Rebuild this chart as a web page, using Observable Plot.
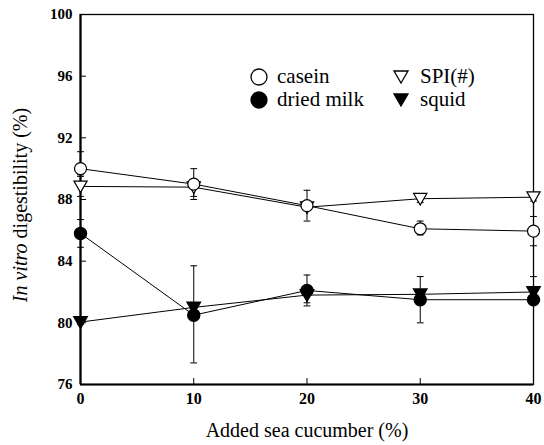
<!DOCTYPE html>
<html><head><meta charset="utf-8">
<script src="https://cdn.jsdelivr.net/npm/d3@7"></script>
<script src="https://cdn.jsdelivr.net/npm/@observablehq/plot@0.6"></script>
<style>
body{margin:0;background:#fff;}
#wrap{position:relative;width:544px;height:445px;}
</style></head>
<body><div id="wrap"></div>
<script>
const xs = [0, 10, 20, 30, 40];
const casein = [90.0, 89.0, 87.6, 86.1, 85.95];
const caseinLo = [89.6, 88.2, 86.6, 85.7, 85.0];
const caseinHi = [91.1, 90.0, 88.6, 86.6, 86.9];
const spi = [88.85, 88.8, 87.5, 88.05, 88.15];
const spiLo = [88.2, 88.0, 87.3, 87.8, 87.9];
const spiHi = [89.5, 89.2, 87.7, 88.3, 88.4];
const milk = [85.8, 80.5, 82.1, 81.5, 81.5];
const milkLo = [84.9, 77.4, 81.1, 80.0, 81.2];
const milkHi = [86.7, 83.7, 83.1, 83.0, 81.8];
const squid = [80.05, 81.0, 81.8, 81.85, 82.0];
const squidLo = [79.9, 80.8, 81.3, 81.6, 81.6];
const squidHi = [80.2, 81.2, 82.2, 82.1, 83.0];
const yTicks = [76, 80, 84, 88, 92, 96, 100];
const xTicks = [0, 10, 20, 30, 40];

const series = [
  {name: "casein", v: casein, lo: caseinLo, hi: caseinHi},
  {name: "SPI(#)", v: spi, lo: spiLo, hi: spiHi},
  {name: "dried milk", v: milk, lo: milkLo, hi: milkHi},
  {name: "squid", v: squid, lo: squidLo, hi: squidHi}
];
const rows = series.flatMap(s => xs.map((x, i) => ({name: s.name, x, y: s.v[i], lo: s.lo[i], hi: s.hi[i]})));
const of = n => rows.filter(d => d.name === n);

const triDown = {draw(ctx, size) {
  const r = Math.sqrt(size) * 0.62;
  ctx.moveTo(-r, -r * 0.8);
  ctx.lineTo(r, -r * 0.8);
  ctx.lineTo(0, r * 0.95);
  ctx.closePath();
}};

const font = "Liberation Serif";
const plot = Plot.plot({
  width: 544, height: 445,
  marginLeft: 80, marginRight: 11, marginTop: 14, marginBottom: 61,
  style: {fontFamily: font, fontSize: "14px", color: "#000", background: "#fff"},
  x: {domain: [0, 40]},
  y: {domain: [76, 100]},
  marks: [
    Plot.frame({stroke: "#000", strokeWidth: 1.3}),
    Plot.ruleX([0], {stroke: "#000", strokeWidth: 2.2}),
    Plot.ruleY([76], {stroke: "#000", strokeWidth: 2}),
    Plot.axisX({ticks: xTicks, tickSize: -6, tickPadding: 14, tickFormat: d => d, fontFamily: font, fontWeight: "bold", fontSize: 16, label: null}),
    Plot.axisY({ticks: yTicks, tickSize: -6, tickPadding: 14, fontFamily: font, fontWeight: "bold", fontSize: 15, label: null}),
    Plot.ruleX(rows, {x: "x", y1: "lo", y2: "hi", stroke: "#000", strokeWidth: 1}),
    Plot.link(rows, {x1: d => d.x - 0.3, x2: d => d.x + 0.3, y1: "lo", y2: "lo", stroke: "#000", strokeWidth: 1}),
    Plot.link(rows, {x1: d => d.x - 0.3, x2: d => d.x + 0.3, y1: "hi", y2: "hi", stroke: "#000", strokeWidth: 1}),
    Plot.line(of("casein"), {x: "x", y: "y", stroke: "#000", strokeWidth: 1}),
    Plot.line(of("SPI(#)"), {x: "x", y: "y", stroke: "#000", strokeWidth: 1}),
    Plot.line(of("dried milk"), {x: "x", y: "y", stroke: "#000", strokeWidth: 1}),
    Plot.line(of("squid"), {x: "x", y: "y", stroke: "#000", strokeWidth: 1}),
    Plot.dot(of("squid"), {x: "x", y: "y", symbol: triDown, r: 6, fill: "#000", stroke: "#000"}),
    Plot.dot(of("dried milk"), {x: "x", y: "y", r: 6, fill: "#000", stroke: "#000"}),
    Plot.dot(of("SPI(#)"), {x: "x", y: "y", symbol: triDown, r: 6, fill: "#fff", stroke: "#000", strokeWidth: 1.2}),
    Plot.dot(of("casein"), {x: "x", y: "y", r: 6, fill: "#fff", stroke: "#000", strokeWidth: 1.2}),
    Plot.text(["Added sea cucumber (%)"], {frameAnchor: "bottom", dy: 52, fontSize: 20, fontFamily: font, text: d => d, fill: "#000"})
  ]
});
plot.setAttribute("font-family", font);
const wrap = document.getElementById("wrap");
wrap.appendChild(plot);

const svg = d3.select(plot);
const yl = svg.append("text")
  .attr("transform", "translate(27,205) rotate(-90)")
  .attr("text-anchor", "middle")
  .attr("font-family", font)
  .attr("font-size", 20).attr("fill", "#000");
yl.append("tspan").attr("font-style", "italic").text("In vitro");
yl.append("tspan").text(" digestibility (%)");

const legendItems = [
  {name: "casein", sym: "circle", fill: "#fff", col: 0, row: 0},
  {name: "dried milk", sym: "circle", fill: "#000", col: 0, row: 1},
  {name: "SPI(#)", sym: "tri", fill: "#fff", col: 1, row: 0},
  {name: "squid", sym: "tri", fill: "#000", col: 1, row: 1}
];
const lg = svg.append("g").attr("font-size", 21).attr("font-family", font).attr("text-anchor", "start");
legendItems.forEach(it => {
  const cx = it.col ? 401 : 259, cy = 77 + it.row * 23;
  if (it.sym === "circle") lg.append("circle").attr("cx", cx).attr("cy", cy).attr("r", 8).attr("fill", it.fill).attr("stroke", "#000").attr("stroke-width", 1.3);
  else lg.append("path").attr("d", `M${cx-7},${cy-6}L${cx+7},${cy-6}L${cx},${cy+6}Z`).attr("fill", it.fill).attr("stroke", "#000").attr("stroke-width", 1.3);
  lg.append("text").attr("x", it.col ? cx + 19 : cx + 18).attr("y", cy + 6).attr("text-anchor", "start").attr("font-family", font).attr("fill", "#000").text(it.name);
});
</script></body></html>
